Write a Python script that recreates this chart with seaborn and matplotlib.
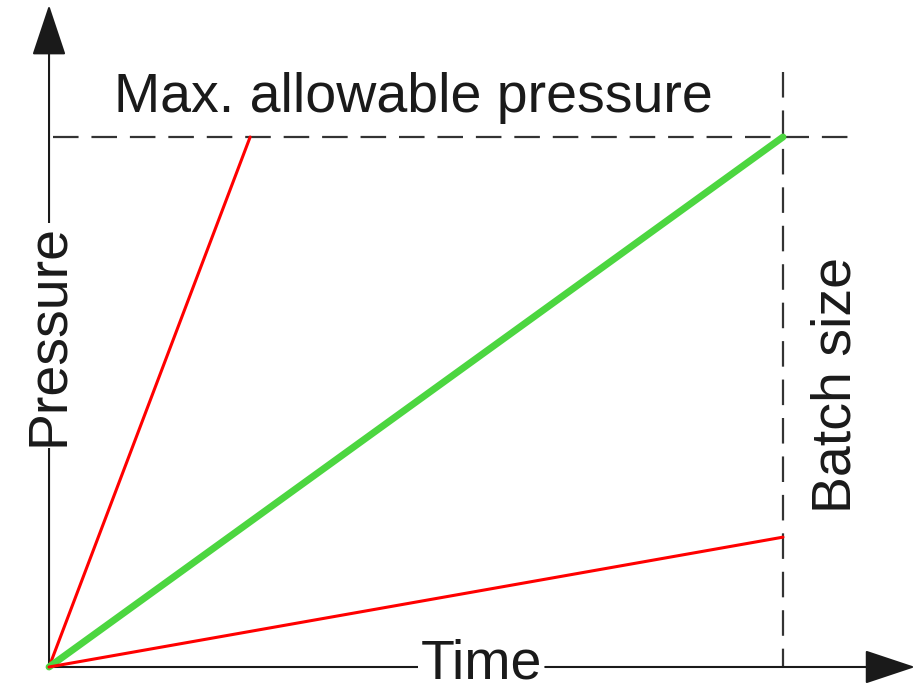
"""
Batch pressure vs. time sketch: allowable pressure limit and batch size.
"""

import matplotlib

matplotlib.use("Agg")
import matplotlib.pyplot as plt
import seaborn as sns

# normalised units: 1.0 = max allowable pressure / batch time
fast_time = [0.0, 0.274]
fast_pressure = [0.0, 1.0]
ideal_time = [0.0, 1.0]
ideal_pressure = [0.0, 1.0]
slow_time = [0.0, 1.0]
slow_pressure = [0.0, 0.245]

max_pressure = 1.0
batch_time = 1.0

RED = "#ff0000"
GREEN = "#4cd640"
DARK = "#1a1a1a"
DASH = "#333333"

sns.set_theme(style="white")
plt.rcParams["font.family"] = ["Liberation Sans", "DejaVu Sans"]

fig = plt.figure(figsize=(9.22, 6.91), dpi=100)
ax = fig.add_axes([0, 0, 1, 1])
ax.set_xlim(-0.0668, 1.1894)
ax.set_ylim(-0.0453, 1.2585)
ax.axis("off")

# limit lines
ax.plot([0.005, 1.091], [max_pressure, max_pressure], color=DASH, lw=1.6,
        linestyle=(0, (11.5, 5.8)), zorder=1)
ax.plot([batch_time, batch_time], [1.123, 0], color=DASH, lw=1.6,
        linestyle=(0, (11.5, 5.8)), zorder=1)

# axes with arrow heads; the time axis is broken where its label sits
arrow = dict(arrowstyle="-|>,head_length=3,head_width=1", mutation_scale=10.8,
             color=DARK, lw=1.5, shrinkA=0, shrinkB=0)
ax.plot([0, 0.503], [0, 0], color=DARK, lw=1.5, zorder=3,
        solid_capstyle="butt")
ax.annotate("", xy=(1.180, 0), xytext=(0.676, 0), arrowprops=arrow, zorder=3,
            annotation_clip=False)
ax.annotate("", xy=(0, 1.249), xytext=(0, 0), arrowprops=arrow, zorder=3,
            annotation_clip=False)

sns.lineplot(x=fast_time, y=fast_pressure, color=RED, lw=2.2, ax=ax, zorder=4)
sns.lineplot(x=ideal_time, y=ideal_pressure, color=GREEN, lw=5, ax=ax, zorder=4)
sns.lineplot(x=slow_time, y=slow_pressure, color=RED, lw=2.2, ax=ax, zorder=4)

fs = 40
ax.text(0.497, 1.047, "Max. allowable pressure", fontsize=fs, color=DARK,
        ha="center", va="baseline")
ax.text(0.589, -0.0226, "Time", fontsize=fs, color=DARK, ha="center",
        va="baseline", zorder=5)
ax.text(0.019, 0.626, "Pressure", fontsize=fs, color=DARK, rotation=90,
        rotation_mode="anchor", ha="center", va="baseline", zorder=5,
        bbox=dict(facecolor="white", edgecolor="none", pad=1.2))
ax.text(1.092, 0.532, "Batch size", fontsize=fs, color=DARK, rotation=90,
        rotation_mode="anchor", ha="center", va="baseline")

fig.savefig("out.png", dpi=100)
